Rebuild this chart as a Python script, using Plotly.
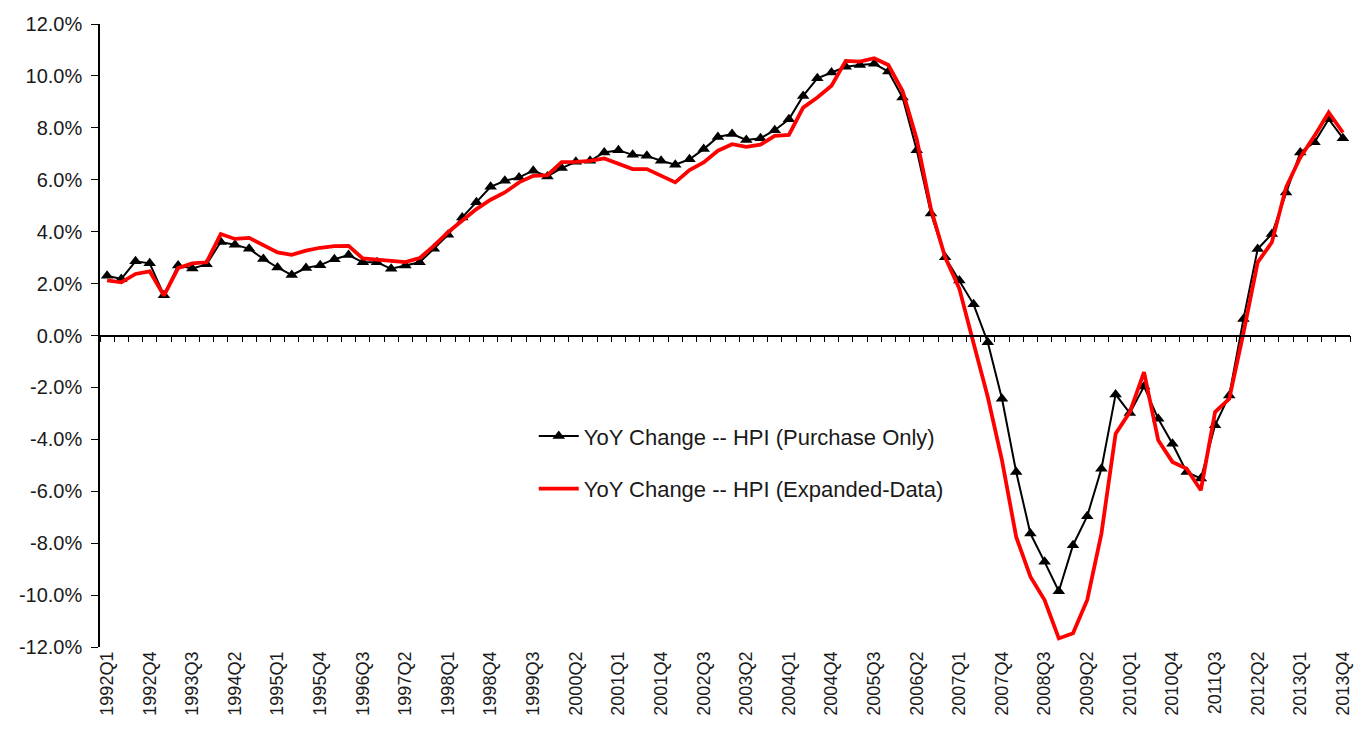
import plotly.graph_objects as go

years = list(range(1992, 2014))
quarters = [f"{y}Q{q}" for y in years for q in (1, 2, 3, 4)]

purchase_only = [
    2.30, 2.18, 2.86, 2.78, 1.55, 2.70, 2.58, 2.74, 3.60, 3.50,
    3.34, 2.95, 2.62, 2.33, 2.60, 2.71, 2.94, 3.10, 2.82, 2.82,
    2.57, 2.70, 2.82, 3.34, 3.88, 4.55, 5.13, 5.73, 5.96, 6.09,
    6.35, 6.13, 6.45, 6.69, 6.73, 7.05, 7.14, 6.96, 6.92, 6.73,
    6.58, 6.79, 7.18, 7.65, 7.76, 7.53, 7.60, 7.91, 8.33, 9.23,
    9.91, 10.13, 10.35, 10.42, 10.47, 10.17, 9.17, 7.14, 4.70, 3.01,
    2.12, 1.20, -0.26, -2.44, -5.26, -7.63, -8.72, -9.85, -8.08, -6.96,
    -5.13, -2.27, -2.99, -1.96, -3.21, -4.17, -5.26, -5.51, -3.46, -2.31,
    0.64, 3.33, 3.91, 5.51, 7.05, 7.44, 8.33, 7.60,
]

expanded_data = [
    2.12, 2.05, 2.37, 2.47, 1.54, 2.60, 2.78, 2.82, 3.91, 3.72,
    3.76, 3.46, 3.20, 3.11, 3.27, 3.38, 3.44, 3.45, 2.97, 2.92,
    2.88, 2.83, 2.98, 3.45, 3.98, 4.42, 4.87, 5.23, 5.51, 5.90,
    6.15, 6.18, 6.68, 6.69, 6.73, 6.82, 6.60, 6.41, 6.41, 6.15,
    5.90, 6.37, 6.67, 7.12, 7.37, 7.27, 7.35, 7.69, 7.73, 8.78,
    9.17, 9.62, 10.58, 10.55, 10.68, 10.42, 9.42, 7.56, 4.87, 3.01,
    1.80, -0.30, -2.37, -4.81, -7.76, -9.29, -10.19, -11.67, -11.47, -10.19,
    -7.63, -3.78, -2.95, -1.41, -4.04, -4.87, -5.13, -5.96, -2.95, -2.44,
    0.10, 2.82, 3.59, 5.71, 6.86, 7.69, 8.59, 7.82,
]

series_names = ["YoY Change -- HPI (Purchase Only)", "YoY Change -- HPI (Expanded-Data)"]
y_ticks = [-12, -10, -8, -6, -4, -2, 0, 2, 4, 6, 8, 10, 12]
label_step = 3

idx = list(range(len(quarters)))
boundaries = [i - 0.5 for i in range(len(quarters) + 1)]
xrange_ = [-0.5, len(quarters) - 0.5]

fig = go.Figure()
fig.add_trace(go.Scatter(
    x=idx, y=purchase_only, name=series_names[0], mode="lines+markers",
    line=dict(color="black", width=2),
    marker=dict(symbol="triangle-up", size=11, color="black"),
    legendgroup="a", customdata=quarters,
))
fig.add_trace(go.Scatter(
    x=idx, y=expanded_data, name=series_names[1], mode="lines",
    line=dict(color="#FF0000", width=3.8),
    legendgroup="b", customdata=quarters,
))
# carrier for the zero-crossing axis (no visible marks)
fig.add_trace(go.Scatter(
    x=idx, y=[None] * len(idx), xaxis="x2", mode="lines",
    showlegend=False, hoverinfo="skip",
))

fig.update_layout(
    width=1348, height=720,
    margin=dict(l=92, r=6, t=16, b=81),
    paper_bgcolor="white", plot_bgcolor="white",
    font=dict(family="Liberation Sans, Arial, sans-serif", color="black"),
    showlegend=True,
    legend=dict(
        x=0.347, y=0.372, xanchor="left", yanchor="top",
        bgcolor="rgba(0,0,0,0)", borderwidth=0,
        font=dict(size=22, color="#1a1a1a"),
        tracegroupgap=21, itemwidth=40,
    ),
    xaxis=dict(
        range=xrange_, tickvals=idx[::label_step], ticktext=quarters[::label_step],
        tickangle=-90, ticks="", showline=False, showgrid=False, zeroline=False,
        tickfont=dict(size=18, color="#1a1a1a"), automargin=False,
    ),
    xaxis2=dict(
        overlaying="x", anchor="free", position=0.5, side="bottom",
        range=xrange_, tickvals=boundaries, ticks="outside", ticklen=6,
        tickcolor="black", showticklabels=False, showline=True,
        linecolor="black", linewidth=1.5, showgrid=False, zeroline=False,
    ),
    yaxis=dict(
        range=[-12, 12], tickvals=y_ticks, ticktext=[f"{v:.1f}%" for v in y_ticks],
        showline=True, linecolor="black", linewidth=1.5, ticks="outside",
        ticklen=7, tickcolor="black", showgrid=False, zeroline=False,
        tickfont=dict(size=20, color="#1a1a1a"), ticklabelstandoff=5,
        automargin=False,
    ),
)

fig.write_html("out.html")
